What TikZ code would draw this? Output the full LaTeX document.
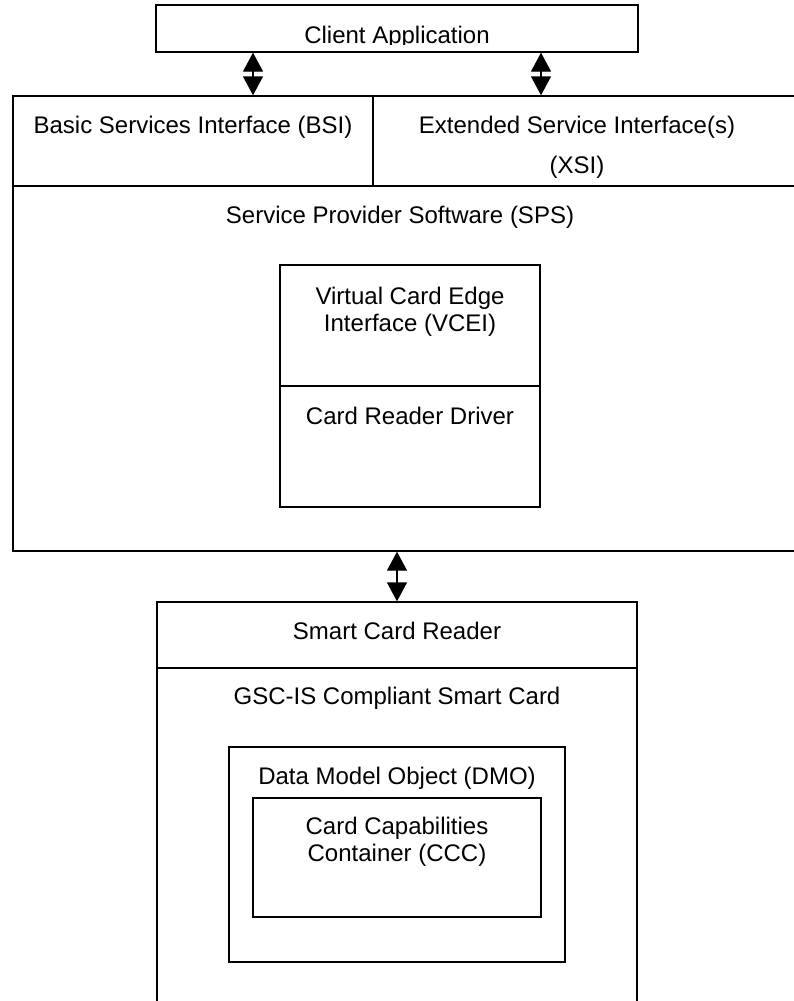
\documentclass[tikz,border=0pt]{standalone}
\usepackage{fontspec}
\setmainfont{Liberation Sans}
\usetikzlibrary{arrows.meta}
\begin{document}
\begin{tikzpicture}[x=1pt,y=1pt,
  box/.style={draw, line width=1.4pt, inner sep=0pt},
  sep/.style={line width=1.4pt},
  lbl/.style={font=\fontsize{24}{29}\selectfont, inner sep=0pt, text height=17pt, text depth=4.5pt},
  biarrow/.style={{Triangle[width=20pt,length=19pt]}-{Triangle[width=20pt,length=19pt]}, line width=1.4pt}]
\useasboundingbox[fill=white] (0,0) rectangle (794,-1001);
% Client application
\node[box, minimum width=482pt, minimum height=47pt] (client) at (397,-28.5) {};
\begin{scope}
\clip (156,-5) rectangle (638,-44.5);
\node[lbl] (clienttxt) at (397,-37.5) {Client Application};
\end{scope}
% SPS main box
\node[box, minimum width=787pt, minimum height=455pt] (sps) at (406.5,-323.5) {};
\coordinate (rowl) at (13,-186);
\coordinate (rowr) at (800,-186);
\draw[sep] (rowl) -- (rowr);
\coordinate (divt) at (373,-96);
\coordinate (divb) at (373,-186);
\draw[sep] (divt) -- (divb);
\node[lbl] (bsi) at (193,-127) {Basic Services Interface (BSI)};
\node[lbl] (xsi1) at (577,-127) {Extended Service Interface(s)};
\node[lbl] (xsi2) at (577,-167) {(XSI)};
\node[lbl] (spstxt) at (400,-217) {Service Provider Software (SPS)};
% VCEI box
\node[box, minimum width=260pt, minimum height=242pt] (vcei) at (410,-386) {};
\coordinate (vml) at (280,-386);
\coordinate (vmr) at (540,-386);
\draw[sep] (vml) -- (vmr);
\node[lbl] (vcei1) at (410,-298) {Virtual Card Edge};
\node[lbl] (vcei2) at (410,-325) {Interface (VCEI)};
\node[lbl] (crd) at (410,-418) {Card Reader Driver};
% Smart card box (open at the bottom)
\node[box, minimum width=480pt, minimum height=408pt] (card) at (397,-806) {};
\coordinate (cml) at (157,-668);
\coordinate (cmr) at (637,-668);
\draw[sep] (cml) -- (cmr);
\node[lbl] (scr) at (397,-633) {Smart Card Reader};
\node[lbl] (gsc) at (397,-698) {GSC-IS Compliant Smart Card};
% DMO
\node[box, minimum width=336pt, minimum height=215pt] (dmo) at (397,-854.5) {};
\node[lbl] (dmotxt) at (397,-778) {Data Model Object (DMO)};
% CCC
\node[box, minimum width=288pt, minimum height=119pt] (ccc) at (397,-857.5) {};
\node[lbl] (ccc1) at (397,-828) {Card Capabilities};
\node[lbl] (ccc2) at (397,-855) {Container (CCC)};
% connectors
\draw[biarrow] (client.south -| 253,0) -- (sps.north -| 253,0);
\draw[biarrow] (client.south -| 541,0) -- (sps.north -| 541,0);
\draw[biarrow] (sps.south -| card.north) -- (card.north);
\end{tikzpicture}
\end{document}
